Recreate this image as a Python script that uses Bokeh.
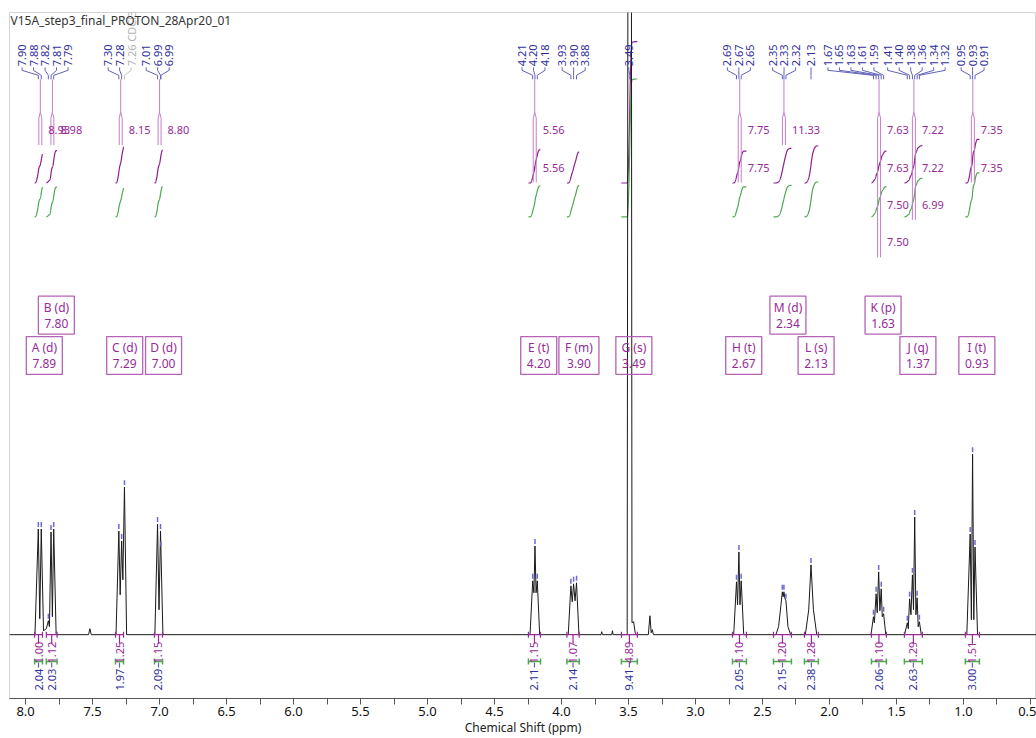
import numpy as np
from bokeh.plotting import figure
from bokeh.models import Range1d, FixedTicker, PrintfTickFormatter
from bokeh.core.properties import value
from bokeh.embed import file_html
from bokeh.resources import INLINE

# ---------------- data ----------------
TITLE = "V15A_step3_final_PROTON_28Apr20_01"
X_LABEL = "Chemical Shift (ppm)"

# spectrum vertices (ppm, intensity above baseline)
spec_ppm = [8.120, 7.930, 7.905, 7.894, 7.883, 7.866, 7.845, 7.830, 7.822, 7.810, 7.800, 7.790, 7.772,
            7.530, 7.520, 7.510,
            7.325, 7.304, 7.294, 7.283, 7.274, 7.262, 7.246,
            7.035, 7.015, 7.004, 6.993, 6.975,
            4.235, 4.215, 4.206, 4.198, 4.190, 4.181, 4.163,
            3.950, 3.930, 3.920, 3.910, 3.899, 3.888, 3.870,
            3.705, 3.700, 3.695, 3.625, 3.620, 3.615,
            3.510, 3.490, 3.474, 3.462, 3.450, 3.440,
            3.352, 3.340, 3.331, 3.322, 3.314,
            2.715, 2.694, 2.686, 2.676, 2.668, 2.659, 2.640,
            2.400, 2.380, 2.362, 2.352, 2.346, 2.340, 2.332, 2.325, 2.310, 2.290,
            2.180, 2.155, 2.138, 2.120, 2.095,
            1.690, 1.672, 1.665, 1.652, 1.644, 1.633, 1.624, 1.614, 1.606, 1.596, 1.580,
            1.440, 1.419, 1.412, 1.402, 1.392, 1.381, 1.373, 1.364, 1.355, 1.346, 1.338, 1.329, 1.315,
            0.975, 0.950, 0.941, 0.932, 0.923, 0.914, 0.895, 0.455]
spec_int = [0, 0, 106, 16, 106, 4, 6, 14, 8, 103, 18, 106, 0,
            0, 6, 0,
            0, 104, 40, 94, 55, 148, 0,
            0, 111, 25, 104, 0,
            0, 54, 42, 89, 42, 54, 0,
            0, 49, 33, 51, 34, 52, 0,
            0, 3, 0, 0, 4, 0,
            0, 2500, 12, 13, 2, 0,
            0, 19, 2, 5, 0,
            0, 53, 30, 83, 30, 54, 0,
            0, 8, 30, 43, 38, 43, 36, 34, 8, 0,
            0, 25, 70, 25, 0,
            0, 18, 12, 41, 22, 63, 24, 46, 18, 21, 0,
            0, 12, 6, 36, 20, 60, 25, 118, 20, 37, 8, 13, 0,
            0, 101, 15, 181, 15, 88, 0, 0]

# multiplets
mult_letter = ["A", "B", "C", "D", "E", "F", "G", "H", "I", "J", "K", "L", "M"]
mult_type = ["d", "d", "d", "d", "t", "m", "s", "t", "t", "q", "p", "s", "d"]
mult_shift = [7.89, 7.80, 7.29, 7.00, 4.20, 3.90, 3.49, 2.67, 0.93, 1.37, 1.63, 2.13, 2.34]
mult_from = [7.933, 7.845, 7.329, 7.038, 4.247, 3.960, 3.553, 2.724, 0.986, 1.441, 1.687, 2.187, 2.418]
mult_to = [7.874, 7.765, 7.269, 6.978, 4.157, 3.868, 3.434, 2.620, 0.881, 1.307, 1.575, 2.083, 2.284]
integ_norm = [1.00, 1.12, 1.25, 1.15, 1.15, 1.07, 4.89, 1.10, 1.51, 1.29, 1.10, 1.28, 1.20]
integ_abs = [2.04, 2.03, 1.97, 2.09, 2.11, 2.14, 9.41, 2.05, 3.00, 2.63, 2.06, 2.38, 2.15]
upper_row = ["B", "M", "K"]

# coupling constants (Hz) shown next to the multiplets
j_mult = ["A", "B", "C", "D", "E", "E", "H", "H", "M", "K", "K", "K", "K", "J", "J", "J", "I", "I"]
j_val = ["8.93", "8.98", "8.15", "8.80", "5.56", "5.56", "7.75", "7.75", "11.33",
         "7.63", "7.63", "7.50", "7.50", "7.22", "7.22", "6.99", "7.35", "7.35"]
j_row = [0, 0, 0, 0, 0, 1, 0, 1, 0, 0, 1, 2, 3, 0, 1, 2, 0, 1]

# picked peaks
peak_ppm = [7.905, 7.883, 7.830, 7.810, 7.790, 7.304, 7.283, 7.262, 7.015, 6.993, 6.990,
            4.215, 4.198, 4.181, 3.930, 3.910, 3.888, 3.490, 2.694, 2.676, 2.659,
            2.352, 2.340, 2.325, 2.138, 1.672, 1.652, 1.633, 1.614, 1.596,
            1.419, 1.402, 1.381, 1.364, 1.346, 1.329, 0.950, 0.932, 0.914]
peak_text = ["7.90", "7.88", "7.82", "7.81", "7.79", "7.30", "7.28", "7.26 CDCl3", "7.01", "6.99", "6.99",
             "4.21", "4.20", "4.18", "3.93", "3.90", "3.88", "3.49", "2.69", "2.67", "2.65",
             "2.35", "2.33", "2.32", "2.13", "1.67", "1.65", "1.63", "1.61", "1.59",
             "1.41", "1.40", "1.38", "1.36", "1.34", "1.32", "0.95", "0.93", "0.91"]
peak_cluster = [0, 0, 0, 0, 0, 1, 1, 1, 2, 2, 2, 3, 3, 3, 4, 4, 4, 5, 6, 6, 6,
                7, 7, 7, 8, 9, 9, 9, 9, 9, 10, 10, 10, 10, 10, 10, 11, 11, 11]
solvent_peaks = ["7.26 CDCl3"]

# ---------------- layout ----------------
FONT = "Noto Sans"
W, H = 1036, 738
FL, FT, FB = 9, 12, 700
BASE_PY = 636
X_START, X_END = 8.12, 0.455
PXPP = (W - FL) / (X_START - X_END)

def ppm_at(px):
    return X_START - (px - FL) / PXPP

def px_of(ppm):
    return FL + (X_START - ppm) * PXPP

def yd(py):
    return BASE_PY - py

BLUE = "#2f2f9c"
BLUE_L = "#6262bb"
MAG = "#982a98"
MAG_L = "#c67ec6"
BOX = "#b563b5"
PURP = "#8e1f8e"
GREEN = "#4ea84e"

p = figure(width=W, height=H, x_range=Range1d(X_START, X_END), y_range=Range1d(yd(FB), yd(FT)),
           output_backend="svg", toolbar_location=None, y_axis_location=None,
           min_border_left=FL, min_border_right=0, min_border_top=FT, min_border_bottom=H - FB)
p.grid.visible = False
p.outline_line_color = "#d4d4d4"
p.background_fill_color = "white"
p.border_fill_color = "white"

ax = p.xaxis[0]
major = [0.5 * k for k in range(1, 17)]
minor = [0.25 + 0.5 * k for k in range(0, 16)]
ax.ticker = FixedTicker(ticks=major, minor_ticks=minor)
ax.formatter = PrintfTickFormatter(format="%.1f")
ax.axis_label = X_LABEL
ax.axis_label_text_font = FONT
ax.axis_label_text_font_size = "12px"
ax.axis_label_text_font_style = "normal"
ax.axis_label_text_color = "#222222"
ax.axis_label_standoff = 0
ax.major_label_text_font = FONT
ax.major_label_text_font_size = "13px"
ax.major_label_text_color = "#111111"
ax.major_label_standoff = 2
ax.major_tick_in = 0
ax.major_tick_out = 6
ax.minor_tick_in = 0
ax.minor_tick_out = 6
ax.axis_line_color = "#555555"
ax.major_tick_line_color = "#555555"
ax.minor_tick_line_color = "#555555"

sp = np.array(spec_ppm, dtype=float)
si = np.array(spec_int, dtype=float)

# ---------------- integral curves (running integral of the drawn spectrum) ----------------
def integral(hi, lo):
    xs = np.linspace(hi, lo, 160)
    ys = np.interp(xs, sp[::-1], si[::-1])
    seg = (xs[:-1] - xs[1:]) * (ys[:-1] + ys[1:]) / 2
    cum = np.concatenate([[0.0], np.cumsum(seg)])
    return xs, cum / cum[-1]

pxs, pys, gxs, gys = [], [], [], []
for k in range(len(mult_letter)):
    xs, frac = integral(mult_from[k], mult_to[k])
    pxs.append(list(xs))
    pys.append(list(yd(183) + frac * 29.0 * integ_norm[k]))
    gxs.append(list(xs))
    gys.append(list(yd(217) + frac * 14.7 * integ_abs[k]))
p.multi_line(pxs, pys, line_color=PURP, line_width=1.2)
p.multi_line(gxs, gys, line_color=GREEN, line_width=1.2)

# ---------------- J-tree lines and coupling labels ----------------
tx, ty = [], []
for k, L in enumerate(mult_letter):
    n = j_mult.count(L)
    if n == 0:
        continue
    cx = px_of(mult_shift[k])
    end_py = 130 + 37.5 * (n - 1) + 15
    tx.append([ppm_at(cx), ppm_at(cx)]); ty.append([yd(79), yd(112)])
    for d in (-1.5, 1.5):
        tx.append([ppm_at(cx), ppm_at(cx + d), ppm_at(cx + d)])
        ty.append([yd(112), yd(118), yd(end_py)])
p.multi_line(tx, ty, line_color=MAG_L, line_width=1)

jx = [ppm_at(px_of(mult_shift[mult_letter.index(m)]) + 8) for m in j_mult]
jy = [yd(130 + 37.5 * r) for r in j_row]
p.text(x=jx, y=jy, text=j_val, text_font=value(FONT), text_font_size="11px",
       text_color=MAG, text_align="left", text_baseline="middle")

# ---------------- spectrum ----------------
p.line(spec_ppm, spec_int, line_color="#1a1a1a", line_width=1)

# peak top markers
pk_h = np.interp(peak_ppm, sp[::-1], si[::-1])
mx, my = [], []
for x, h in zip(peak_ppm, pk_h):
    if h < 600:
        mx.append([x, x]); my.append([h + 2, h + 7])
p.multi_line(mx, my, line_color="#6a6ad8", line_width=1.5)

# ---------------- peak labels at top ----------------
cluster_shift = [-1.5, -2, -2, -1.5, 0, -1, 0, 0, 0, -27.7, 3, 0]
SPACING = 11.5
lab_x, lab_y, lab_t, lab_c = [], [], [], []
cx_list, cy_list, cc_list = [], [], []
for c in range(max(peak_cluster) + 1):
    idx = [i for i, g in enumerate(peak_cluster) if g == c]
    centre = np.mean([px_of(peak_ppm[i]) for i in idx]) + cluster_shift[c]
    n = len(idx)
    for j, i in enumerate(idx):
        lx = centre + (j - (n - 1) / 2) * SPACING
        px = px_of(peak_ppm[i])
        col = "#b4b4b4" if peak_text[i] in solvent_peaks else BLUE
        lab_x.append(ppm_at(lx)); lab_y.append(yd(66)); lab_t.append(peak_text[i]); lab_c.append(col)
        cx_list.append([ppm_at(lx), ppm_at(lx), ppm_at(px), ppm_at(px)])
        cy_list.append([yd(67), yd(70), yd(75), yd(79)])
        cc_list.append("#c4c4c4" if peak_text[i] in solvent_peaks else BLUE_L)
p.multi_line(cx_list, cy_list, line_color=cc_list, line_width=1)
p.text(x=lab_x, y=lab_y, text=lab_t, angle=np.pi / 2, text_font=value(FONT), text_font_size="11px",
       text_color=lab_c, text_align="left", text_baseline="middle")

# ---------------- multiplet boxes ----------------
bx, by, bw, l1, l2, y1, y2 = [], [], [], [], [], [], []
for k, L in enumerate(mult_letter):
    cpy = 315.5 if L in upper_row else 356
    cxp = px_of(mult_shift[k]) + 4
    wpx = 40 if mult_type[k] == "m" else 36
    bx.append(ppm_at(cxp)); by.append(yd(cpy)); bw.append(wpx / PXPP)
    l1.append(f"{L} ({mult_type[k]})"); l2.append(f"{mult_shift[k]:.2f}")
    y1.append(yd(cpy - 8)); y2.append(yd(cpy + 8))
p.rect(x=bx, y=by, width=bw, height=38, fill_color=None, line_color=BOX, line_width=1.3)
p.text(x=bx, y=y1, text=l1, text_font=value(FONT), text_font_size="12px", text_color=MAG,
       text_align="center", text_baseline="middle")
p.text(x=bx, y=y2, text=l2, text_font=value(FONT), text_font_size="12px", text_color=MAG,
       text_align="center", text_baseline="middle")

# ---------------- integration ranges at the bottom ----------------
mgx, mgy, grx, gry, blx, bly = [], [], [], [], [], []
for k in range(len(mult_letter)):
    a, b = mult_from[k], mult_to[k]
    c = (a + b) / 2
    mgx += [[a, b], [a, a], [b, b], [c, c]]
    mgy += [[0, 0], [-3, 3], [-3, 3], [0, -9]]
    grx += [[a, b], [a, a], [b, b]]
    gry += [[yd(663)] * 2, [yd(660), yd(666)], [yd(660), yd(666)]]
    blx += [[c, c]]
    bly += [[yd(664), yd(669)]]
p.multi_line(mgx, mgy, line_color=MAG, line_width=1.2)
p.multi_line(grx, gry, line_color=GREEN, line_width=1.5)
p.multi_line(blx, bly, line_color=BLUE_L, line_width=1.2)
cen = [(a + b) / 2 for a, b in zip(mult_from, mult_to)]
p.text(x=cen, y=[yd(654)] * len(cen), text=[f"{v:.2f}" for v in integ_norm], angle=np.pi / 2,
       text_font=value(FONT), text_font_size="11px", text_color=MAG,
       text_align="center", text_baseline="middle")
p.text(x=cen, y=[yd(681)] * len(cen), text=[f"{v:.2f}" for v in integ_abs], angle=np.pi / 2,
       text_font=value(FONT), text_font_size="11px", text_color=BLUE,
       text_align="center", text_baseline="middle")

# ---------------- title ----------------
p.text(x=[ppm_at(FL + 1)], y=[yd(20)], text=[TITLE], text_font=value(FONT), text_font_size="12px",
       text_color="#333333", text_align="left", text_baseline="middle")

open("out.html", "w").write(file_html(p, INLINE))
